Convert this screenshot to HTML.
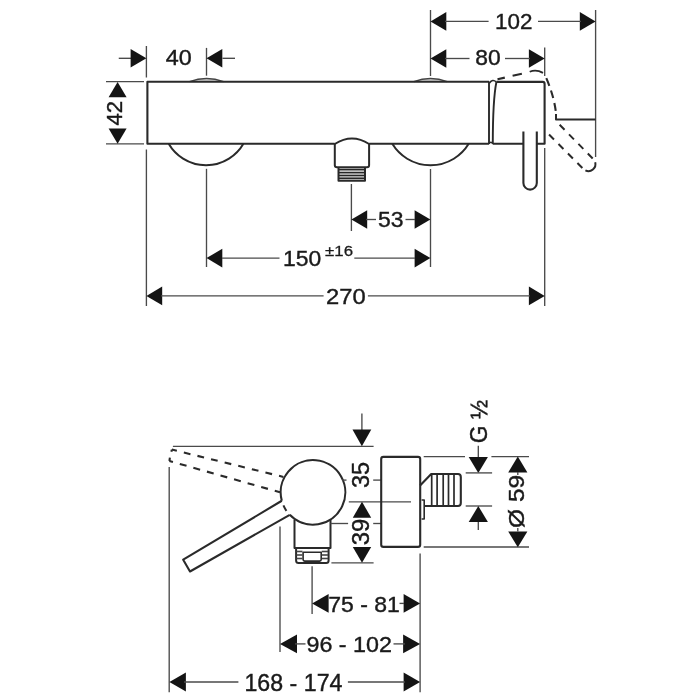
<!DOCTYPE html>
<html><head><meta charset="utf-8"><title>Shower mixer dimensions</title><style>
html,body{margin:0;padding:0;background:#fff;width:700px;height:700px;overflow:hidden}
svg{display:block;will-change:transform}
text{font-family:"Liberation Sans",sans-serif;fill:#1a1a1a;stroke:#1a1a1a;stroke-width:1.8px}
</style></head><body>
<svg width="700" height="700" viewBox="0 0 700 700">
<rect width="700" height="700" fill="#fff"/>
<line x1="146.4" y1="46" x2="146.4" y2="77.5" stroke="#4a4a4a" stroke-width="1.35"/>
<line x1="146.4" y1="149.5" x2="146.4" y2="306" stroke="#4a4a4a" stroke-width="1.35"/>
<line x1="206.5" y1="47.9" x2="206.5" y2="75.7" stroke="#4a4a4a" stroke-width="1.35"/>
<line x1="206.5" y1="168.8" x2="206.5" y2="267" stroke="#4a4a4a" stroke-width="1.35"/>
<line x1="430.5" y1="10" x2="430.5" y2="76" stroke="#4a4a4a" stroke-width="1.35"/>
<line x1="430.5" y1="169" x2="430.5" y2="267" stroke="#4a4a4a" stroke-width="1.35"/>
<line x1="351.4" y1="184" x2="351.4" y2="231" stroke="#4a4a4a" stroke-width="1.35"/>
<line x1="544.7" y1="47.5" x2="544.7" y2="76" stroke="#4a4a4a" stroke-width="1.35"/>
<line x1="544.7" y1="148" x2="544.7" y2="306" stroke="#4a4a4a" stroke-width="1.35"/>
<line x1="595.6" y1="10" x2="595.6" y2="157" stroke="#4a4a4a" stroke-width="1.35"/>
<line x1="106" y1="81.6" x2="144" y2="81.6" stroke="#4a4a4a" stroke-width="1.35"/>
<line x1="106" y1="143.9" x2="144" y2="143.9" stroke="#4a4a4a" stroke-width="1.35"/>
<line x1="118.75" y1="58.3" x2="131" y2="58.3" stroke="#4a4a4a" stroke-width="1.35"/>
<polygon points="146.40,58.30 130.60,49.00 130.60,67.60" fill="#141414"/>
<line x1="222.5" y1="58.3" x2="235" y2="58.3" stroke="#4a4a4a" stroke-width="1.35"/>
<polygon points="206.50,58.30 222.30,49.00 222.30,67.60" fill="#141414"/>
<polygon points="117.60,82.00 108.60,97.20 126.60,97.20" fill="#141414"/>
<polygon points="117.60,143.80 108.60,128.60 126.60,128.60" fill="#141414"/>
<polygon points="430.50,21.40 446.30,12.10 446.30,30.70" fill="#141414"/>
<polygon points="595.60,21.40 579.80,12.10 579.80,30.70" fill="#141414"/>
<line x1="445" y1="21.4" x2="488.6" y2="21.4" stroke="#4a4a4a" stroke-width="1.35"/>
<line x1="538" y1="21.4" x2="581" y2="21.4" stroke="#4a4a4a" stroke-width="1.35"/>
<polygon points="430.50,58.50 446.30,49.20 446.30,67.80" fill="#141414"/>
<polygon points="544.70,58.50 528.90,49.20 528.90,67.80" fill="#141414"/>
<line x1="445" y1="58.5" x2="469.5" y2="58.5" stroke="#4a4a4a" stroke-width="1.35"/>
<line x1="505" y1="58.5" x2="530" y2="58.5" stroke="#4a4a4a" stroke-width="1.35"/>
<polygon points="351.40,219.50 367.20,210.20 367.20,228.80" fill="#141414"/>
<polygon points="430.40,219.50 414.60,210.20 414.60,228.80" fill="#141414"/>
<line x1="366" y1="219.5" x2="376" y2="219.5" stroke="#4a4a4a" stroke-width="1.35"/>
<line x1="405.5" y1="219.5" x2="415" y2="219.5" stroke="#4a4a4a" stroke-width="1.35"/>
<polygon points="206.50,258.10 222.30,248.80 222.30,267.40" fill="#141414"/>
<polygon points="430.40,258.10 414.60,248.80 414.60,267.40" fill="#141414"/>
<line x1="222" y1="258.1" x2="279.5" y2="258.1" stroke="#4a4a4a" stroke-width="1.35"/>
<line x1="354.3" y1="258.1" x2="415" y2="258.1" stroke="#4a4a4a" stroke-width="1.35"/>
<polygon points="146.40,295.90 162.20,286.60 162.20,305.20" fill="#141414"/>
<polygon points="544.70,295.90 528.90,286.60 528.90,305.20" fill="#141414"/>
<line x1="161" y1="295.9" x2="323.6" y2="295.9" stroke="#4a4a4a" stroke-width="1.35"/>
<line x1="367.9" y1="295.9" x2="530" y2="295.9" stroke="#4a4a4a" stroke-width="1.35"/>
<path d="M189.5,81.6 Q206.5,75.2 223.6,81.6" stroke="#444" stroke-width="1.5" fill="#d8d8d8" stroke-linejoin="round" />
<path d="M413.8,81.6 Q430.5,75.2 447.2,81.6" stroke="#444" stroke-width="1.5" fill="#d8d8d8" stroke-linejoin="round" />
<path d="M489,81.8 H147.4 V143.8 H334.8 M369.1,143.8 H489" stroke="#2a2a2a" stroke-width="2.1" fill="none" stroke-linejoin="round" />
<path d="M489,81.6 V143.9" stroke="#2a2a2a" stroke-width="1.9" fill="none" stroke-linejoin="round" />
<path d="M168.7,143.8 A43.2,43.2 0 0 0 243.4,143.8" stroke="#2a2a2a" stroke-width="2.0" fill="none" stroke-linejoin="round" />
<path d="M392.3,143.8 A44.7,44.7 0 0 0 468.7,143.8" stroke="#2a2a2a" stroke-width="2.0" fill="none" stroke-linejoin="round" />
<path d="M334.8,144 Q352,133 369.1,144" stroke="#2a2a2a" stroke-width="2" fill="none" stroke-linejoin="round" />
<path d="M334.8,143.5 V165.3 Q334.8,167.3 337,167.3 H367 Q369.1,167.3 369.1,165.3 V143.5" stroke="#2a2a2a" stroke-width="2" fill="none" stroke-linejoin="round" />
<path d="M338.5,167.3 V180.8 H365 V167.3" stroke="#2a2a2a" stroke-width="2" fill="none" stroke-linejoin="round" />
<line x1="338.5" y1="169.6" x2="365" y2="169.6" stroke="#262626" stroke-width="1.8"/>
<line x1="338.5" y1="172.6" x2="365" y2="172.6" stroke="#262626" stroke-width="1.8"/>
<line x1="338.5" y1="175.5" x2="365" y2="175.5" stroke="#262626" stroke-width="1.8"/>
<line x1="338.5" y1="178.3" x2="365" y2="178.3" stroke="#262626" stroke-width="1.8"/>
<path d="M496.4,82 Q492.8,100 492.8,143.8" stroke="#2a2a2a" stroke-width="1.9" fill="none" stroke-linejoin="round" />
<path d="M496.4,81.9 H542.7 Q544.6,82 544.6,84 V143.8 H536.8 M523.4,143.8 H492.8" stroke="#2a2a2a" stroke-width="2.1" fill="none" stroke-linejoin="round" />
<path d="M489,143.8 Q491,140.5 492.8,143.8" stroke="#2a2a2a" stroke-width="1.5" fill="none" stroke-linejoin="round" />
<path d="M489.5,83 Q492.5,78.5 496.4,82" stroke="#2a2a2a" stroke-width="1.5" fill="none" stroke-linejoin="round" />
<path d="M523.4,131.4 V182.9 A6.7,6.7 0 0 0 536.8,182.9 V131.4" stroke="#2a2a2a" stroke-width="2.1" fill="none" stroke-linejoin="round" />
<path d="M497.5,79.3 L527,72.5" stroke="#2a2a2a" stroke-width="2.1" fill="none" stroke-linejoin="round" stroke-dasharray="7.5 8 9.5 100"/>
<path d="M529.7,71.8 Q536,68.8 543,72.9" stroke="#2a2a2a" stroke-width="1.8" fill="none" stroke-linejoin="round" />
<path d="M546.3,78.2 Q554,96 556,113" stroke="#2a2a2a" stroke-width="2.1" fill="none" stroke-linejoin="round" stroke-dasharray="8 5"/>
<path d="M556,114 V119.5 H595.6" stroke="#2a2a2a" stroke-width="2.0" fill="none" stroke-linejoin="round" />
<path d="M545.5,131 L583.4,169" stroke="#2a2a2a" stroke-width="2.0" fill="none" stroke-linejoin="round" stroke-dasharray="7 6.4" stroke-dashoffset="-5"/>
<path d="M585.4,170.4 A7,7 0 0 0 595.2,162.3" stroke="#2a2a2a" stroke-width="2.0" fill="none" stroke-linejoin="round" />
<path d="M593.4,159.2 L557,122.1" stroke="#2a2a2a" stroke-width="2.0" fill="none" stroke-linejoin="round" stroke-dasharray="7 6.4" stroke-dashoffset="-1"/>
<line x1="172.9" y1="446.3" x2="373.6" y2="446.3" stroke="#4a4a4a" stroke-width="1.35"/>
<line x1="361.9" y1="413.6" x2="361.9" y2="430" stroke="#4a4a4a" stroke-width="1.35"/>
<polygon points="361.90,446.30 352.50,429.60 371.30,429.60" fill="#141414"/>
<line x1="169.2" y1="467" x2="169.2" y2="692.3" stroke="#4a4a4a" stroke-width="1.35"/>
<path d="M171.8,449.6 L283.4,476.9" stroke="#2a2a2a" stroke-width="2.1" fill="none" stroke-linejoin="round" stroke-dasharray="6.8 7.2" stroke-dashoffset="1.6"/>
<path d="M171.4,451.8 L171.8,449.6" stroke="#2a2a2a" stroke-width="2.1" fill="none" stroke-linejoin="round" />
<path d="M169.4,461 L280,492.3" stroke="#2a2a2a" stroke-width="2.1" fill="none" stroke-linejoin="round" stroke-dasharray="7 7.1" stroke-dashoffset="3.3"/>
<path d="M169.9,457.6 L169.4,461" stroke="#2a2a2a" stroke-width="2.1" fill="none" stroke-linejoin="round" />
<path d="M281.80,500.76 A32.3,32.3 0 1 1 289.77,514.84" stroke="#2a2a2a" stroke-width="2.1" fill="none" stroke-linejoin="round" />
<path d="M289.77,514.84 A32.3,32.3 0 0 1 281.80,500.76" stroke="#2a2a2a" stroke-width="2.0" fill="none" stroke-linejoin="round" stroke-dasharray="0 5.2 6.2 40"/>
<path d="M281.80,500.76 L183.2,559.7 L190,571.5 L289.77,514.84" stroke="#2a2a2a" stroke-width="2.1" fill="none" stroke-linejoin="round" />
<path d="M294.5,519.4 V548 H330.5 V519.5" stroke="#2a2a2a" stroke-width="2" fill="none" stroke-linejoin="round" />
<path d="M296.1,548 V560.5 Q296.1,563 298.6,563 H326.1 Q328.6,563 328.6,560.5 V548" stroke="#2a2a2a" stroke-width="2" fill="none" stroke-linejoin="round" />
<path d="M303.1,552.2 H321.2 V559.5 Q321.2,561.1 319.6,561.1 H304.7 Q303.1,561.1 303.1,559.5 Z" stroke="#2a2a2a" stroke-width="1.6" fill="none" stroke-linejoin="round" />
<line x1="296.5" y1="551.5" x2="302.5" y2="551.5" stroke="#444" stroke-width="1.6"/>
<line x1="321.7" y1="551.5" x2="328" y2="551.5" stroke="#444" stroke-width="1.6"/>
<line x1="296.5" y1="555" x2="302.5" y2="555" stroke="#444" stroke-width="1.6"/>
<line x1="321.7" y1="555" x2="328" y2="555" stroke="#444" stroke-width="1.6"/>
<line x1="296.5" y1="558.5" x2="302.5" y2="558.5" stroke="#444" stroke-width="1.6"/>
<line x1="321.7" y1="558.5" x2="328" y2="558.5" stroke="#444" stroke-width="1.6"/>
<line x1="342" y1="480.1" x2="346.5" y2="480.1" stroke="#4a4a4a" stroke-width="1.35"/>
<line x1="373.2" y1="480.1" x2="381.5" y2="480.1" stroke="#4a4a4a" stroke-width="1.35"/>
<line x1="348.8" y1="501.8" x2="411" y2="501.8" stroke="#4a4a4a" stroke-width="1.35"/>
<line x1="330.5" y1="523.5" x2="348.1" y2="523.5" stroke="#4a4a4a" stroke-width="1.35"/>
<line x1="373.2" y1="523.5" x2="381.5" y2="523.5" stroke="#4a4a4a" stroke-width="1.35"/>
<line x1="331.4" y1="562.8" x2="373.6" y2="562.8" stroke="#4a4a4a" stroke-width="1.35"/>
<polygon points="362.00,501.80 352.80,517.70 371.20,517.70" fill="#141414"/>
<polygon points="362.00,562.80 352.80,546.90 371.20,546.90" fill="#141414"/>
<rect x="381.2" y="456.9" width="39" height="90" rx="2.2" stroke="#2a2a2a" stroke-width="2.1" fill="none"/>
<path d="M420.1,485.5 L431.2,474 H458 Q460.8,474 460.8,477 V503 Q460.8,506 458,506 H424.9" stroke="#2a2a2a" stroke-width="2.1" fill="none" stroke-linejoin="round" />
<line x1="431.7" y1="474.5" x2="431.7" y2="505.5" stroke="#2a2a2a" stroke-width="1.7"/>
<line x1="437.1" y1="474.5" x2="437.1" y2="505.5" stroke="#2a2a2a" stroke-width="1.7"/>
<line x1="443.2" y1="474.5" x2="443.2" y2="505.5" stroke="#2a2a2a" stroke-width="1.7"/>
<line x1="448.5" y1="474.5" x2="448.5" y2="505.5" stroke="#2a2a2a" stroke-width="1.7"/>
<line x1="454" y1="474.5" x2="454" y2="505.5" stroke="#2a2a2a" stroke-width="1.7"/>
<path d="M421.6,500 H424.2 V519 H421.6" stroke="#2a2a2a" stroke-width="1.6" fill="none" stroke-linejoin="round" />
<line x1="423.7" y1="456.6" x2="465" y2="456.6" stroke="#4a4a4a" stroke-width="1.35"/>
<line x1="491.4" y1="456.6" x2="529" y2="456.6" stroke="#4a4a4a" stroke-width="1.35"/>
<line x1="423.7" y1="547" x2="529" y2="547" stroke="#4a4a4a" stroke-width="1.35"/>
<line x1="478.3" y1="445.7" x2="478.3" y2="457.1" stroke="#4a4a4a" stroke-width="1.35"/>
<polygon points="478.30,472.90 468.70,457.10 487.90,457.10" fill="#141414"/>
<line x1="465.7" y1="472.9" x2="492.1" y2="472.9" stroke="#4a4a4a" stroke-width="1.35"/>
<line x1="465.7" y1="506" x2="492.1" y2="506" stroke="#4a4a4a" stroke-width="1.35"/>
<polygon points="478.30,506.00 468.70,522.10 487.90,522.10" fill="#141414"/>
<line x1="478.3" y1="522" x2="478.3" y2="530" stroke="#4a4a4a" stroke-width="1.35"/>
<polygon points="517.80,456.60 508.20,472.60 527.40,472.60" fill="#141414"/>
<polygon points="517.80,547.20 508.20,531.40 527.40,531.40" fill="#141414"/>
<line x1="517.8" y1="472" x2="517.8" y2="475" stroke="#4a4a4a" stroke-width="1.35"/>
<line x1="517.8" y1="528" x2="517.8" y2="531.5" stroke="#4a4a4a" stroke-width="1.35"/>
<line x1="420.1" y1="553.4" x2="420.1" y2="692.3" stroke="#4a4a4a" stroke-width="1.35"/>
<line x1="280" y1="526.5" x2="280" y2="652" stroke="#4a4a4a" stroke-width="1.35"/>
<line x1="312.1" y1="566.2" x2="312.1" y2="614" stroke="#4a4a4a" stroke-width="1.35"/>
<polygon points="312.10,603.40 328.60,594.10 328.60,612.70" fill="#141414"/>
<polygon points="420.10,603.40 403.60,594.10 403.60,612.70" fill="#141414"/>
<line x1="399.5" y1="603.4" x2="404" y2="603.4" stroke="#4a4a4a" stroke-width="1.35"/>
<polygon points="280.00,643.90 297.00,634.60 297.00,653.20" fill="#141414"/>
<polygon points="420.10,643.90 403.10,634.60 403.10,653.20" fill="#141414"/>
<line x1="295" y1="643.9" x2="305.5" y2="643.9" stroke="#4a4a4a" stroke-width="1.35"/>
<line x1="393.5" y1="643.9" x2="405" y2="643.9" stroke="#4a4a4a" stroke-width="1.35"/>
<polygon points="169.40,682.00 185.90,672.60 185.90,691.40" fill="#141414"/>
<polygon points="420.10,682.00 403.60,672.60 403.60,691.40" fill="#141414"/>
<line x1="184" y1="682" x2="238.4" y2="682" stroke="#4a4a4a" stroke-width="1.35"/>
<line x1="347.9" y1="682" x2="405" y2="682" stroke="#4a4a4a" stroke-width="1.35"/>
<text transform="matrix(0.23364,0,0,0.22018,165.688,65.060)" font-size="100">40</text>
<text transform="matrix(0,-0.22145,0.22326,0,121.777,125.495)" font-size="100">42</text>
<text transform="matrix(0.22436,0,0,0.21606,495.004,28.568)" font-size="100">102</text>
<text transform="matrix(0.22857,0,0,0.21743,475.238,65.065)" font-size="100">80</text>
<text transform="matrix(0.22930,0,0,0.21606,378.112,226.568)" font-size="100">53</text>
<text transform="matrix(0.22881,0,0,0.22706,282.975,265.546)" font-size="100">150</text>
<text transform="matrix(0.16840,0,0,0.14450,325.107,256.211)" font-size="100">±16</text>
<text transform="matrix(0.23750,0,0,0.22018,326.050,303.860)" font-size="100">270</text>
<text transform="matrix(0,-0.23619,0.23670,0,368.527,488.109)" font-size="100">35</text>
<text transform="matrix(0,-0.23866,0.23670,0,368.527,545.316)" font-size="100">39</text>
<text transform="matrix(0,-0.22909,0.22982,0,486.540,443.216)" font-size="100">G ½</text>
<text transform="matrix(0,-0.24464,0.22664,0,523.969,527.908)" font-size="100">Ø 59</text>
<text transform="matrix(0.23003,0,0,0.21606,328.303,611.568)" font-size="100">75 - 81</text>
<text transform="matrix(0.23315,0,0,0.22982,306.445,651.540)" font-size="100">96 - 102</text>
<text transform="matrix(0.23188,0,0,0.23257,244.454,690.735)" font-size="100">168 - 174</text>
</svg>
</body></html>
